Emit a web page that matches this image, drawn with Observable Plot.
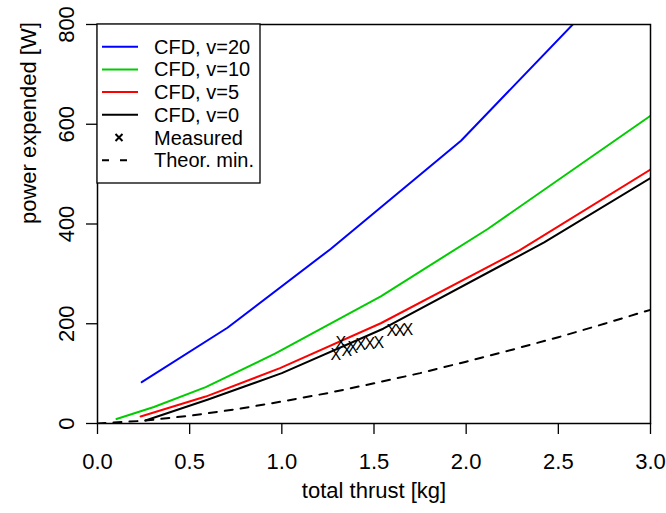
<!DOCTYPE html>
<html><head><meta charset="utf-8">
<script src="https://cdn.jsdelivr.net/npm/d3@7"></script>
<script src="https://cdn.jsdelivr.net/npm/@observablehq/plot@0.6"></script>
<style>body{margin:0;background:#fff}#chart{width:666px;height:513px}</style>
</head><body><div id="chart"></div>
<script>
// tick values
const xTicks = [0, 0.5, 1, 1.5, 2, 2.5, 3];
const yTicks = [0, 200, 400, 600, 800];

// CFD series [thrust kg, power W]
const cfd20 = [[0.24, 83], [0.705, 192], [1.265, 350], [1.972, 567], [2.75, 866]];
const cfd10 = [[0.103, 9], [0.306, 33], [0.587, 73], [0.963, 140], [1.537, 255], [2.117, 390], [3.0, 617]];
const cfd5  = [[0.234, 14], [0.587, 54], [0.99, 111], [1.537, 201], [2.289, 347], [3.0, 509]];
const cfd0  = [[0.26, 6], [0.60, 48], [1.0, 101], [1.55, 190], [2.423, 363], [3.0, 492]];

// measured points
const measured = [[1.320, 162], [1.293, 138], [1.352, 146], [1.385, 152], [1.428, 158],
                  [1.477, 160], [1.526, 162], [1.597, 186], [1.640, 186], [1.684, 188]];

// theoretical minimum
const theory = [[0, 0], [0.25, 5.5], [0.5, 15.5], [0.75, 28.5], [1, 44], [1.25, 61], [1.5, 80.5],
                [1.75, 101], [2, 124], [2.25, 148], [2.5, 173], [2.75, 200], [3, 228]];

const seriesNames = ["CFD, v=20", "CFD, v=10", "CFD, v=5", "CFD, v=0"];
const seriesColors = ["#0000ff", "#00cd00", "#ff0000", "#000000"];
const seriesData = [cfd20, cfd10, cfd5, cfd0];
const legendLabels = [...seriesNames, "Measured", "Theor. min."];

const font = "'Liberation Sans', Arial, Helvetica, sans-serif";
const dash = "8,8";

const plot = Plot.plot({
  width: 666, height: 513,
  marginLeft: 97, marginRight: 16, marginTop: 24, marginBottom: 90,
  style: {fontFamily: font, background: "white", color: "black"},
  x: {domain: [0, 3]},
  y: {domain: [0, 800]},
  marks: [
    ...seriesData.map((s, i) => Plot.line(s, {x: d => d[0], y: d => d[1], stroke: seriesColors[i], strokeWidth: 2, clip: true})),
    Plot.line(theory, {x: d => d[0], y: d => d[1], stroke: "black", strokeWidth: 2, strokeDasharray: dash, clip: true}),
    Plot.text(measured, {x: d => d[0], y: d => d[1], text: () => "X", fontSize: 16, fill: "black"}),
    Plot.frame({stroke: "black", strokeWidth: 1.5}),
    Plot.axisX(xTicks, {tickSize: 11, tickPadding: 19, tickFormat: d3.format(".1f"), fontSize: 22, label: null, strokeWidth: 1.3}),
    Plot.axisY(yTicks, {tickSize: 11, tickPadding: 13, tickRotate: -90, fontSize: 22, label: null, strokeWidth: 1.3}),
    Plot.text(["total thrust [kg]"], {text: d => d, frameAnchor: "bottom", dy: 74, fontSize: 22}),
    Plot.text(["power expended [W]"], {text: d => d, frameAnchor: "left", dx: -69, rotate: -90, fontSize: 22})
  ]
});
document.getElementById("chart").appendChild(plot);

// legend (top-left inside plot)
const svg = d3.select(plot);
const g = svg.append("g").attr("font-family", font).attr("font-size", 20).attr("text-anchor", "start");
const lx = 97, ly = 24, lw = 163, lh = 159, row0 = 46.7, rowStep = 22.7;
g.append("rect").attr("x", lx).attr("y", ly).attr("width", lw).attr("height", lh)
  .attr("fill", "white").attr("stroke", "black").attr("stroke-width", 1.3);
legendLabels.forEach((lab, i) => {
  const y = row0 + i * rowStep;
  if (i < 4) {
    g.append("line").attr("x1", 102).attr("x2", 138).attr("y1", y).attr("y2", y)
      .attr("stroke", seriesColors[i]).attr("stroke-width", 2);
  } else if (i === 4) {
    const cx = 119, r = 3.5;
    g.append("path").attr("d", `M${cx-r},${y-r}L${cx+r},${y+r}M${cx-r},${y+r}L${cx+r},${y-r}`)
      .attr("stroke", "black").attr("stroke-width", 2);
  } else {
    g.append("line").attr("x1", 102).attr("x2", 138).attr("y1", y).attr("y2", y)
      .attr("stroke", "black").attr("stroke-width", 2).attr("stroke-dasharray", "7,11");
  }
  g.append("text").attr("x", 154).attr("y", y).attr("dy", "0.35em").attr("text-anchor", "start")
    .attr("fill", "black").text(lab);
});
</script>
</body></html>
